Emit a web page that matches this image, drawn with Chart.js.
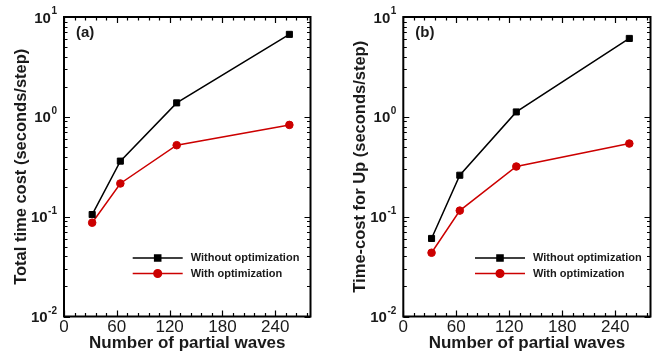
<!DOCTYPE html>
<html>
<head>
<meta charset="utf-8">
<script src="https://cdn.jsdelivr.net/npm/chart.js@4.4.1/dist/chart.umd.min.js"></script>
<style>
  html, body { margin: 0; padding: 0; background: #fff; }
  #wrap { position: relative; width: 656px; height: 354px; overflow: hidden; }
  canvas { position: absolute; top: 0; }
  #ca { left: 0; }
  #cb { left: 328px; }
</style>
</head>
<body>
<div id="wrap">
  <canvas id="ca" width="328" height="354"></canvas>
  <canvas id="cb" width="328" height="354"></canvas>
</div>
<script>
// ---- data ----
const partialWaves = [32, 64, 128, 256];
const totalWithout = [0.105, 0.36, 1.38, 6.7];
const totalWith    = [0.087, 0.215, 0.52, 0.83];
const upWithout    = [0.0605, 0.26, 1.12, 6.1];
const upWith       = [0.0435, 0.115, 0.318, 0.54];
const xMajorTicks  = [0, 60, 120, 180, 240];
const xMinorStep   = 12;
const yDecades     = [0.01, 0.1, 1, 10];
const yExponents   = ["-2", "-1", "0", "1"];
const seriesNames  = ["Without optimization", "With optimization"];
const panelLabels  = ["(a)", "(b)"];
const yTitles      = ["Total time cost (seconds/step)", "Time-cost for Up (seconds/step)"];
const xTitle       = "Number of partial waves";

const FONT = "'Liberation Sans', Arial, Helvetica, sans-serif";
const TXT = "#1a1a1a";
const BLACK = "#000000";
const RED = "#cc0000";

function pts(xs, ys) { return xs.map((x, i) => ({ x: x, y: ys[i] })); }

const framePlugin = {
  id: 'frameTicks',
  beforeDatasetsDraw(chart) {
    const { ctx, chartArea: a, scales } = chart;
    const xs = scales.x, ys = scales.y;
    ctx.save();
    ctx.strokeStyle = "#000";
    ctx.lineWidth = 1.2;
    ctx.beginPath();
    for (let v = xs.min; v <= xs.max; v += xMinorStep) {
      const px = Math.round(xs.getPixelForValue(v)) + 0.5;
      const len = xMajorTicks.includes(v) ? 6 : 3.5;
      ctx.moveTo(px, a.bottom); ctx.lineTo(px, a.bottom - len);
      ctx.moveTo(px, a.top); ctx.lineTo(px, a.top + len);
    }
    for (let d = 0; d < yDecades.length; d++) {
      const base = yDecades[d];
      for (let k = 1; k <= 9; k++) {
        const v = base * k;
        if (v > ys.max * 1.0001) break;
        const py = Math.round(ys.getPixelForValue(v)) + 0.5;
        const len = k === 1 ? 6 : 3.5;
        ctx.moveTo(a.left, py); ctx.lineTo(a.left + len, py);
        ctx.moveTo(a.right, py); ctx.lineTo(a.right - len, py);
      }
    }
    ctx.stroke();
    ctx.lineWidth = 2;
    ctx.strokeRect(a.left, a.top, a.right - a.left, a.bottom - a.top);
    ctx.restore();
  },
  afterDraw(chart, args, opts) {
    const { ctx, chartArea: a, scales } = chart;
    const ys = scales.y;
    ctx.save();
    ctx.fillStyle = TXT;
    yDecades.forEach((v, i) => {
      const py = ys.getPixelForValue(v);
      ctx.font = "bold 10px " + FONT;
      const ew = ctx.measureText(yExponents[i]).width;
      const right = a.left - 7;
      ctx.textAlign = "left";
      ctx.textBaseline = "alphabetic";
      ctx.fillText(yExponents[i], right - ew, py - 3);
      ctx.font = "bold 15px " + FONT;
      ctx.textAlign = "right";
      ctx.fillText("10", right - ew - 0.5, py + 5.5);
    });
    ctx.font = "bold 15px " + FONT;
    ctx.textAlign = "left";
    ctx.textBaseline = "middle";
    ctx.fillText(opts.label, a.left + 12, a.top + 16);
    const lx = a.left + opts.legendDx;
    const ly = [a.top + 241, a.top + 256.5];
    const cols = [BLACK, RED];
    const styles = ['rect', 'circle'];
    const radii = [4.3, 3.8];
    for (let i = 0; i < 2; i++) {
      ctx.strokeStyle = cols[i];
      ctx.lineWidth = 1.5;
      ctx.beginPath();
      ctx.moveTo(lx, ly[i]); ctx.lineTo(lx + 50, ly[i]);
      ctx.stroke();
      ctx.fillStyle = cols[i];
      Chart.helpers.drawPoint(ctx, { pointStyle: styles[i], radius: radii[i], rotation: 0, borderWidth: 1 }, lx + 25, ly[i]);
      ctx.fillStyle = TXT;
      ctx.font = "bold 11px " + FONT;
      ctx.textAlign = "left";
      ctx.textBaseline = "middle";
      ctx.fillText(seriesNames[i], lx + 58, ly[i]);
    }
    ctx.restore();
  }
};

function makeChart(id, yWithout, yWith, cfg) {
  return new Chart(document.getElementById(id), {
    type: 'scatter',
    data: {
      datasets: [
        { label: seriesNames[0], data: pts(partialWaves, yWithout), showLine: true,
          borderColor: BLACK, backgroundColor: BLACK, borderWidth: 1.5,
          pointStyle: 'rect', pointRadius: 4.3, pointBorderWidth: 1 },
        { label: seriesNames[1], data: pts(partialWaves, yWith), showLine: true,
          borderColor: RED, backgroundColor: RED, borderWidth: 1.5,
          pointStyle: 'circle', pointRadius: 3.8, pointBorderWidth: 1 }
      ]
    },
    options: {
      responsive: false,
      animation: false,
      devicePixelRatio: 1,
      events: [],
      layout: { padding: { left: 0, right: cfg.padRight, top: 17, bottom: 0 } },
      plugins: {
        legend: { display: false },
        tooltip: { enabled: false },
        frameTicks: { label: cfg.label, legendDx: cfg.legendDx }
      },
      scales: {
        x: {
          type: 'linear', position: 'bottom', min: 0, max: 280,
          grid: { display: false, drawTicks: false },
          border: { display: false },
          afterBuildTicks(scale) { scale.ticks = xMajorTicks.map(v => ({ value: v })); },
          ticks: { font: { size: 17, family: FONT }, color: TXT, padding: 1, maxRotation: 0, autoSkip: false },
          title: { display: true, text: xTitle, color: TXT,
                   font: { size: 17, weight: 'bold', family: FONT }, padding: { top: 0, bottom: 0 } },
          afterFit(scale) { scale.height = 37.5; }
        },
        y: {
          type: 'logarithmic', position: 'left', min: 0.01, max: 10,
          grid: { display: false, drawTicks: false },
          border: { display: false },
          ticks: { display: false },
          title: { display: true, text: cfg.yTitle, color: TXT,
                   font: { size: 16.5, weight: 'bold', family: FONT }, padding: { top: cfg.yTitlePad, bottom: 0 } },
          afterFit(scale) { scale.width = cfg.yWidth; }
        }
      }
    },
    plugins: [framePlugin]
  });
}

makeChart('ca', totalWithout, totalWith,
  { label: panelLabels[0], yTitle: yTitles[0], padRight: 17.5, yWidth: 64, yTitlePad: 11.6, legendDx: 68.7 });
makeChart('cb', upWithout, upWith,
  { label: panelLabels[1], yTitle: yTitles[1], padRight: 5.5, yWidth: 75.3, yTitlePad: 22.8, legendDx: 71.7 });
</script>
</body>
</html>
